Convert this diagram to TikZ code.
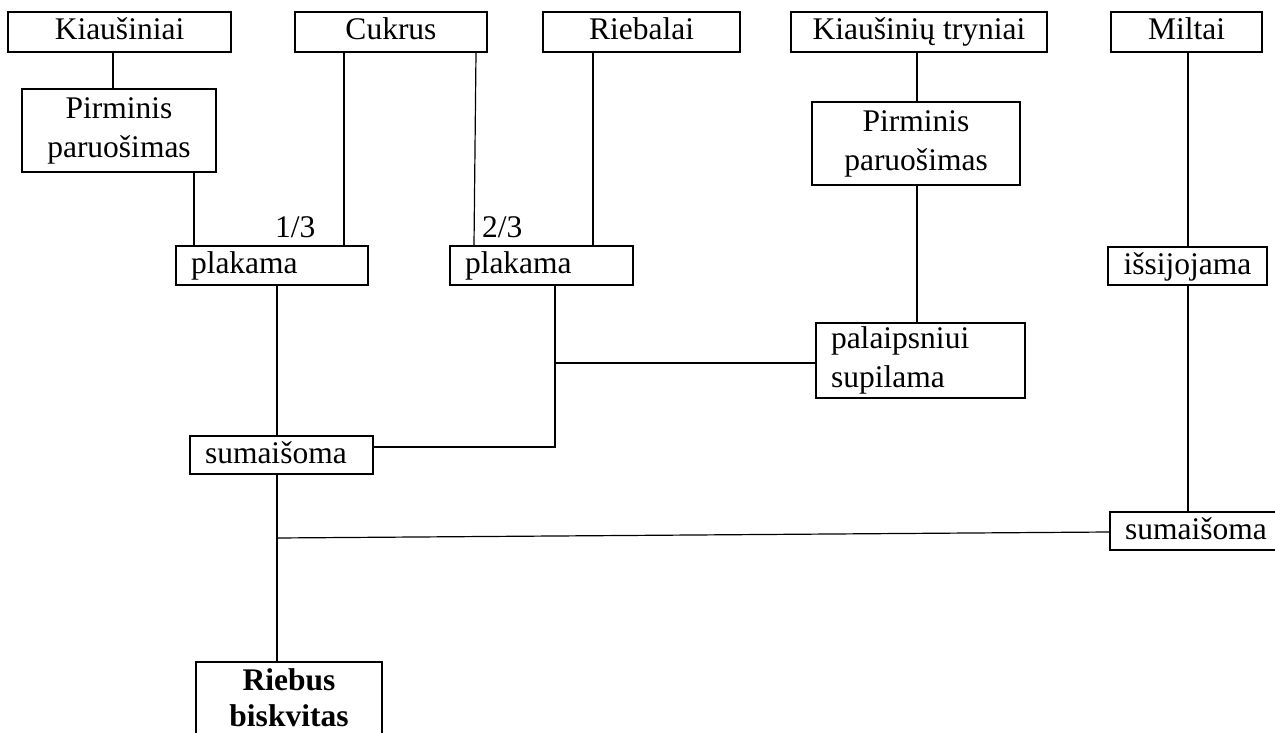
\documentclass[tikz,border=0pt]{standalone}
\usepackage{fontspec}
\setmainfont{Liberation Serif}
\begin{document}
\begin{tikzpicture}[x=1pt,y=-1pt,
  every node/.style={font=\fontsize{31.5}{39}\selectfont},
  box/.style={draw, line width=1.6pt, inner sep=0pt, rectangle},
  cbox/.style={box, align=center},
  lbox/.style={box, align=left, inner xsep=15pt},
  oneline/.style={text height=21pt, text depth=5pt},
  link/.style={line width=1.2pt},
  frac/.style={anchor=base west, inner sep=0pt}]
\clip (0,0) rectangle (1275,733);
\useasboundingbox (0,0) rectangle (1275,733);

% raw materials along the top row
\node[cbox, oneline, minimum width=223pt, minimum height=40pt] (kiaus) at (119.5,32) {Kiaušiniai};
\node[cbox, oneline, minimum width=192pt, minimum height=40pt] (cukrus) at (391,32) {Cukrus};
\node[cbox, oneline, minimum width=197pt, minimum height=40pt] (rieb) at (641.5,32) {Riebalai};
\node[cbox, oneline, minimum width=256pt, minimum height=40pt] (tryn) at (919,32) {Kiaušinių tryniai};
\node[cbox, oneline, minimum width=151pt, minimum height=40pt] (milt) at (1186.5,32) {Miltai};

% preparation steps
\node[cbox, minimum width=194pt, minimum height=83pt] (pirm1) at (119,130.5) {Pirminis\\paruošimas};
\node[cbox, minimum width=208pt, minimum height=83pt] (pirm2) at (916,143.5) {Pirminis\\paruošimas};
\node[lbox, oneline, text width=162pt, minimum height=39pt] (plak1) at (272,265.5) {plakama};
\node[lbox, oneline, text width=153pt, minimum height=39pt] (plak2) at (541.5,265.5) {plakama};
\node[cbox, oneline, minimum width=159pt, minimum height=38pt] (issij) at (1187.5,266) {išsijojama};
\node[lbox, text width=179pt, minimum height=75pt] (palaip) at (920.5,360.5) {palaipsniui\\supilama};
\node[lbox, oneline, text width=153pt, minimum height=38pt] (sumai1) at (281.5,455) {sumaišoma};
\node[lbox, oneline, text width=136pt, minimum height=38pt] (sumai2) at (1193,531) {sumaišoma};
\node[cbox, minimum width=186pt, minimum height=72pt, font=\fontsize{31.5}{36}\selectfont\bfseries] (riebus) at (289,698) {Riebus\\biskvitas};

% sugar portions
\node[frac] (third) at (275,237) {1/3};
\node[frac] (twothirds) at (482,237) {2/3};

% junctions
\coordinate (j1) at (555,363);
\coordinate (j2) at (277,538);

% connectors
\draw[link] (kiaus.south -| 113,0) -- (pirm1.north -| 113,0);
\draw[link] (pirm1.south -| 194,0) -- (plak1.north -| 194,0);
\draw[link] (cukrus.south -| 344,0) -- (plak1.north -| 344,0);
\draw[link] (cukrus.south -| 476,0) -- (plak2.north -| 474,0);
\draw[link] (rieb.south -| 593,0) -- (plak2.north -| 593,0);
\draw[link] (tryn.south -| 917,0) -- (pirm2.north -| 917,0);
\draw[link] (pirm2.south -| 917,0) -- (palaip.north -| 917,0);
\draw[link] (milt.south -| 1188,0) -- (issij.north -| 1188,0);
\draw[link] (issij.south -| 1188,0) -- (sumai2.north -| 1188,0);
\draw[link] (plak1.south -| 277,0) -- (sumai1.north -| 277,0);
\draw[link] (plak2.south -| 555,0) -- (555,447) -- (sumai1.east |- 0,447);
\draw[link] (j1) -- (palaip.west |- j1);
\draw[link] (sumai1.south -| 277,0) -- (riebus.north -| 277,0);
\draw[link] (sumai2.west |- 0,532) -- (j2);
\end{tikzpicture}
\end{document}
